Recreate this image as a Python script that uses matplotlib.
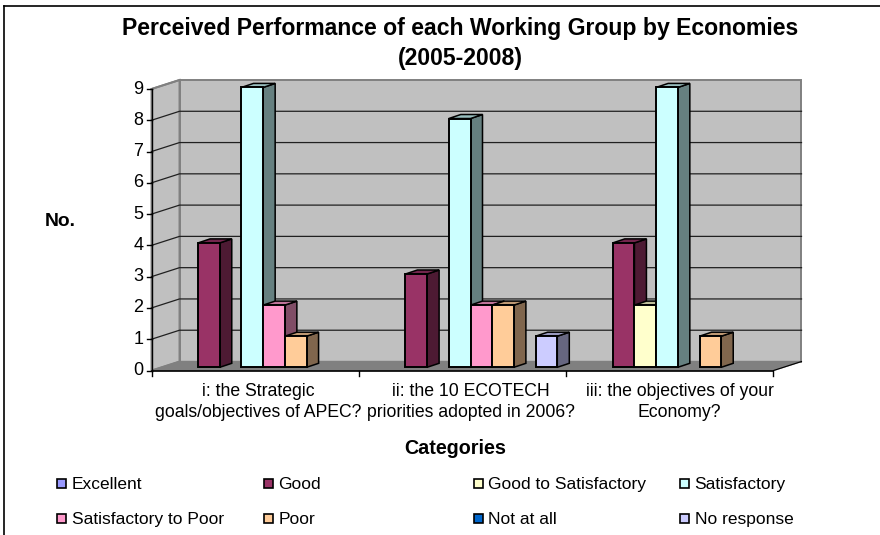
import matplotlib
matplotlib.use('Agg')
import matplotlib.pyplot as plt
from matplotlib.colors import to_rgb
from matplotlib.patches import Polygon, Rectangle

plt.rcParams['font.family'] = ['Liberation Sans', 'DejaVu Sans']

categories = ['i: the Strategic\ngoals/objectives of APEC?',
              'ii: the 10 ECOTECH\npriorities adopted in 2006?',
              'iii: the objectives of your\nEconomy?']
series_names = ['Excellent', 'Good', 'Good to Satisfactory', 'Satisfactory',
                'Satisfactory to Poor', 'Poor', 'Not at all', 'No response']
excellent = [0, 0, 0]
good = [4, 3, 4]
good_to_satisfactory = [0, 0, 2]
satisfactory = [9, 8, 9]
satisfactory_to_poor = [2, 2, 0]
poor = [1, 2, 1]
not_at_all = [0, 0, 0]
no_response = [0, 1, 0]
series_values = [excellent, good, good_to_satisfactory, satisfactory,
                 satisfactory_to_poor, poor, not_at_all, no_response]
colors = ['#9999FF', '#993366', '#FFFFCC', '#CCFFFF',
          '#FF99CC', '#FFCC99', '#0066CC', '#CCCCFF']

W, H = 880, 535
fig = plt.figure(figsize=(W / 100, H / 100), dpi=100)
# axes = front plane of the fake 3D box, measured in pixels
L, R, T, B = 151.5, 773.5, 89.0, 370.5
ax = fig.add_axes([L / W, 1 - B / H, (R - L) / W, (B - T) / H])
ax.set_xlim(-0.5, 2.5)
ax.set_ylim(0, 9)
ax.axis('off')

px = 3 / (R - L)       # one pixel in x units
py = 9 / (B - T)       # one pixel in y units
depth_x, depth_y = 28 * px, 9 * py


def face(points, color, edge='black', lw=1.0, z=1):
    ax.add_patch(Polygon(points, closed=True, facecolor=color, edgecolor=edge,
                         linewidth=lw, zorder=z, clip_on=False, joinstyle='miter'))


# walls and floor
face([(-0.5, 0), (-0.5 + depth_x, depth_y), (-0.5 + depth_x, 9 + depth_y), (-0.5, 9)],
     '#C0C0C0', '#808080', 1.4)
face([(-0.5 + depth_x, depth_y), (2.5 + depth_x, depth_y),
      (2.5 + depth_x, 9 + depth_y), (-0.5 + depth_x, 9 + depth_y)],
     '#C0C0C0', '#808080', 1.4)
face([(-0.5, 0), (2.5, 0), (2.5 + depth_x, depth_y), (-0.5 + depth_x, depth_y)],
     '#808080', '#808080', 1.0)

for v in range(1, 9):
    ax.plot([-0.5, -0.5 + depth_x, 2.5 + depth_x], [v, v + depth_y, v + depth_y],
            color='#202020', lw=0.9, zorder=2, clip_on=False)
ax.plot([-0.5, -0.5 + depth_x], [9, 9 + depth_y], color='#808080', lw=1.4, zorder=2,
        clip_on=False)

# axis lines and ticks
ax.plot([-0.5, -0.5], [0, 9], color='black', lw=1.0, zorder=3, clip_on=False)
ax.plot([-0.5, 2.5], [0, 0], color='black', lw=1.2, zorder=3, clip_on=False)
ax.plot([2.5, 2.5 + depth_x], [0, depth_y], color='black', lw=0.8, zorder=3, clip_on=False)
for v in range(10):
    ax.plot([-0.5 - 5 * px, -0.5], [v, v], color='black', lw=1.0, zorder=3, clip_on=False)
    ax.text(-0.5 - 8 * px, v, str(v), ha='right', va='center', fontsize=13, zorder=3)
for x in [-0.5, 0.5, 1.5, 2.5]:
    ax.plot([x, x], [0, -5 * py], color='black', lw=1.0, zorder=3, clip_on=False)
label_shift = [3.3, 8.5, 9.7]
for i, cat in enumerate(categories):
    ax.text(i + label_shift[i] * px, -13 * py, cat, ha='center', va='top', fontsize=12.7,
            linespacing=1.3, zorder=3)

# bars: left to right so later ones cover the side of earlier ones
bar_w = 21.7 * px
gap_x, gap_y = 8 * px, 3.2 * py
side_x, side_y = 12 * px, 4 * py
height_scale = 31.1 / 31.28
z = 4
for i in range(len(categories)):
    for s, values in enumerate(series_values):
        val = values[i]
        if val == 0:
            continue
        x0 = i - 4 * bar_w + gap_x + s * bar_w
        x1 = x0 + bar_w
        y0 = gap_y
        y1 = val * height_scale + gap_y
        col = to_rgb(colors[s])
        side = tuple(c * 0.5 for c in col)
        top = tuple(c * 0.75 for c in col)
        face([(x1, y0), (x1 + side_x, y0 + side_y), (x1 + side_x, y1 + side_y), (x1, y1)],
             side, z=z, lw=1.1)
        face([(x0, y1), (x1, y1), (x1 + side_x, y1 + side_y), (x0 + side_x, y1 + side_y)],
             top, z=z, lw=1.1)
        face([(x0, y0), (x1, y0), (x1, y1), (x0, y1)], col, z=z + 1, lw=1.4)
        z += 2

# text outside the plot
fig.text(460 / W, 1 - 29 / H, 'Perceived Performance of each Working Group by Economies',
         ha='center', va='center', fontsize=16.6, fontweight='bold')
fig.text(460 / W, 1 - 59 / H, '(2005-2008)', ha='center', va='center', fontsize=16.6,
         fontweight='bold')
fig.text(60 / W, 1 - 221 / H, 'No.', ha='center', va='center', fontsize=13.9, fontweight='bold')
fig.text(455 / W, 1 - 448 / H, 'Categories', ha='center', va='center', fontsize=14.2,
         fontweight='bold')

# legend laid out by hand to keep the four uneven columns
leg_x = [57, 264, 474, 680]
leg_y = [483, 518]
for s, name in enumerate(series_names):
    col = s % 4
    row = s // 4
    fig.add_artist(Rectangle((leg_x[col] / W, 1 - (leg_y[row] + 4.5) / H), 9 / W, 9 / H,
                             transform=fig.transFigure, facecolor=colors[s],
                             edgecolor='black', linewidth=1.2))
    fig.text((leg_x[col] + 14.5) / W, 1 - (leg_y[row] + 6) / H, name, ha='left',
             va='baseline', fontsize=12.5)

# outer chart border
fig.add_artist(plt.Line2D([4 / W, 4 / W], [0, 1 - 6 / H], color='black', lw=1.2))
fig.add_artist(plt.Line2D([4 / W, 1], [1 - 6 / H, 1 - 6 / H], color='black', lw=1.2))

fig.savefig('out.png', dpi=100)
